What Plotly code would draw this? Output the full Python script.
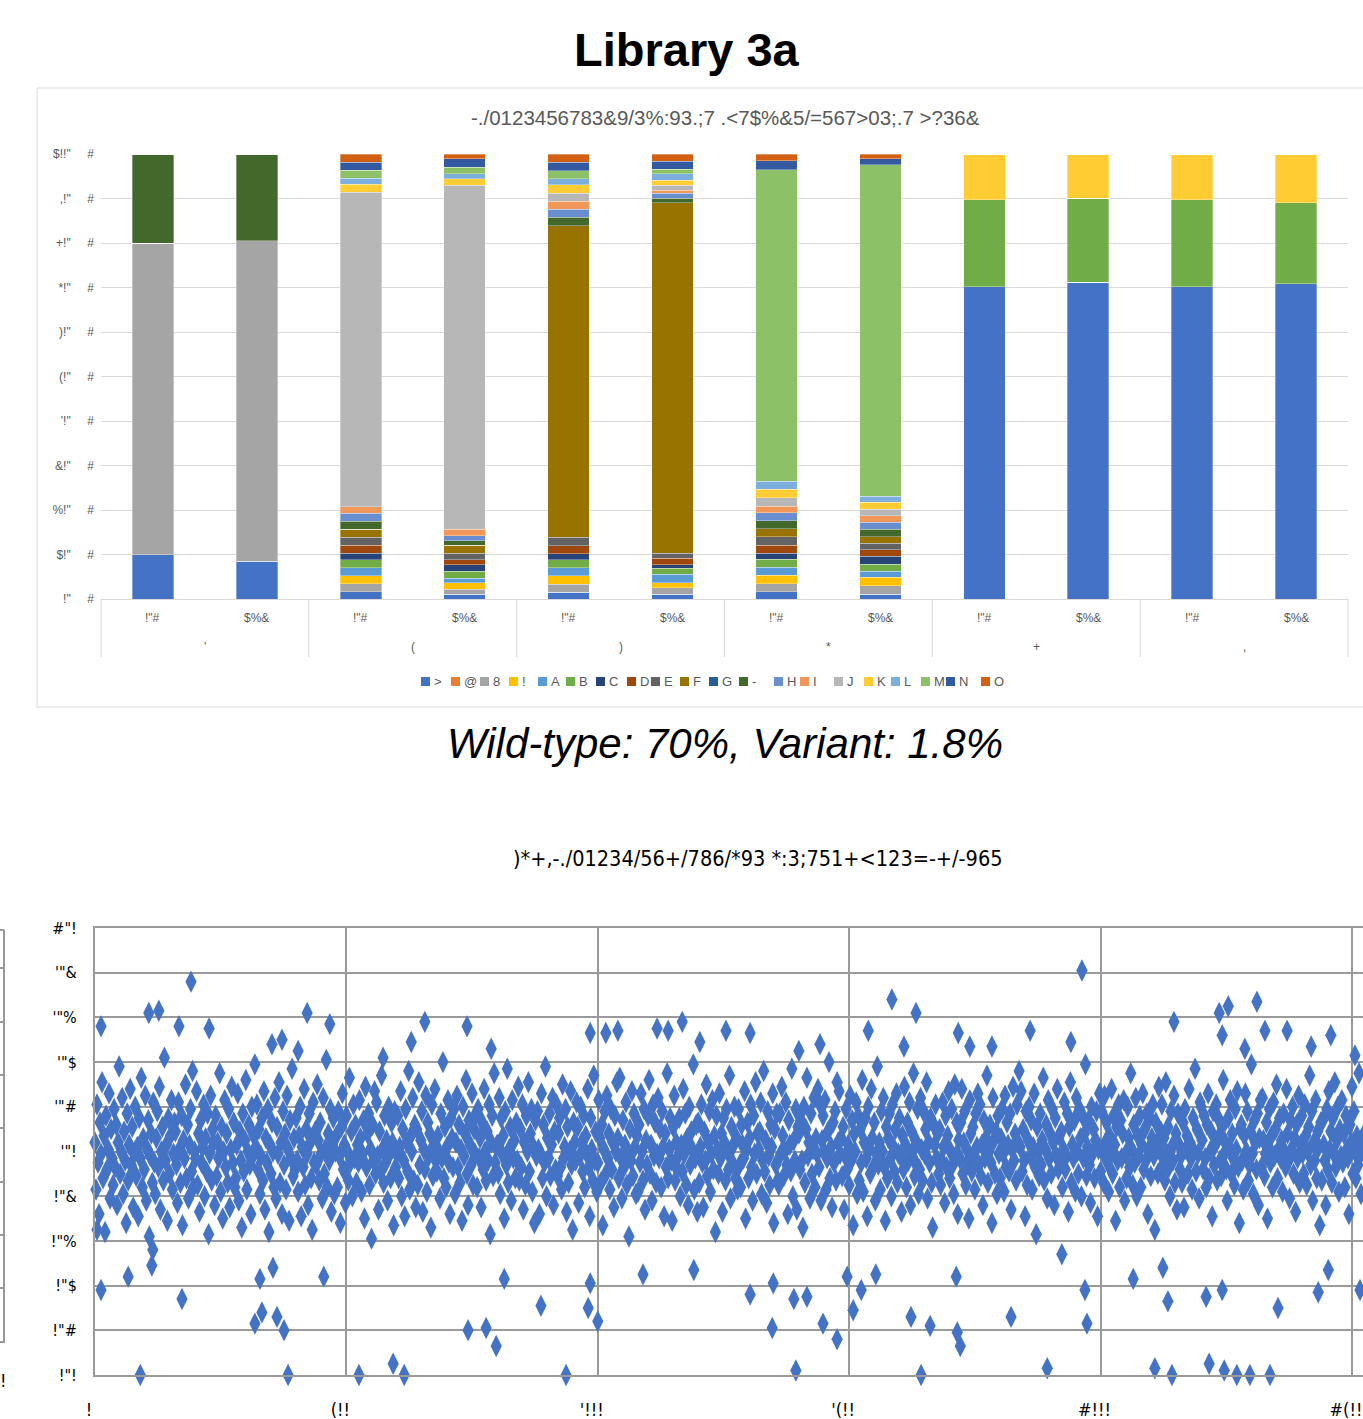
import plotly.graph_objects as go

W, H = 1363, 1419


def px(x):
    return x / W


def py(y):
    return 1 - y / H


def esc(t):
    return t.replace('<', '&lt;').replace('>', '&gt;')


NARROW = "Liberation Sans Narrow, Arial Narrow, DejaVu Sans Condensed, sans-serif"
SANS = "Liberation Sans, Arial, sans-serif"
GRAY_TXT = '#595959'

# ---------------- top chart data ----------------
group_labels = ["'", "(", ")", "*", "+", ","]
sub_labels = ['!"#', '$%&']
series_names = ['>', '@', '8', '!', 'A', 'B', 'C', 'D', 'E', 'F',
                'G', '-', 'H', 'I', 'J', 'K', 'L', 'M', 'N', 'O']
series_colors = ['#4472C4', '#ED7D31', '#A5A5A5', '#FFC000', '#5B9BD5',
                 '#70AD47', '#264478', '#9E480E', '#636363', '#997300',
                 '#255E91', '#43682B', '#698ED0', '#F1975A', '#B7B7B7',
                 '#FFCD33', '#7CAFDD', '#8CC168', '#335AA1', '#D26012']

s_gt = [9.9, 8.5, 1.6, 1.05, 1.5, 1.05, 1.64, 1.12, 70.2, 71.3, 70.2, 70.9]
s_at = [0, 0, 0, 0, 0, 0, 0, 0, 0, 0, 0, 0]
s_8 = [70.1, 72.0, 1.8, 1.12, 1.8, 1.5, 1.8, 1.87, 0, 0, 0, 0]
s_excl = [0, 0, 1.8, 1.5, 1.87, 1.12, 1.87, 1.87, 0, 0, 0, 0]
s_A = [0, 0, 1.8, 1.05, 1.8, 1.87, 1.8, 1.42, 0, 0, 0, 0]
s_B = [0, 0, 1.8, 1.5, 1.87, 1.42, 1.8, 1.5, 19.6, 18.9, 19.6, 18.2]
s_C = [0, 0, 1.4, 1.5, 1.35, 0.74, 1.42, 1.87, 0, 0, 0, 0]
s_D = [0, 0, 1.8, 1.05, 1.8, 1.42, 1.8, 1.42, 0, 0, 0, 0]
s_E = [0, 0, 1.8, 1.5, 1.87, 1.12, 1.87, 1.5, 0, 0, 0, 0]
s_F = [0, 0, 1.8, 1.8, 70.0, 78.7, 1.8, 1.42, 0, 0, 0, 0]
s_G = [0, 0, 0, 0, 0, 0, 0, 0, 0, 0, 0, 0]
s_dash = [20.0, 19.5, 1.8, 1.05, 1.87, 1.05, 1.8, 1.73, 0, 0, 0, 0]
s_H = [0, 0, 1.8, 1.12, 1.8, 1.12, 1.8, 1.57, 0, 0, 0, 0]
s_I = [0, 0, 1.5, 1.42, 1.8, 0.67, 1.5, 1.42, 0, 0, 0, 0]
s_J = [0, 0, 70.4, 77.3, 1.8, 1.12, 1.87, 1.5, 0, 0, 0, 0]
s_K = [0, 0, 1.8, 1.5, 1.87, 1.12, 1.87, 1.5, 10.3, 9.9, 10.3, 11.0]
s_L = [0, 0, 1.4, 1.05, 1.42, 1.5, 1.8, 1.42, 0, 0, 0, 0]
s_M = [0, 0, 1.8, 1.5, 1.8, 1.05, 70.0, 74.4, 0, 0, 0, 0]
s_N = [0, 0, 1.8, 1.87, 1.87, 1.73, 2.0, 1.35, 0, 0, 0, 0]
s_O = [0, 0, 1.8, 1.12, 1.87, 1.64, 1.57, 1.12, 0, 0, 0, 0]
series_values = [s_gt, s_at, s_8, s_excl, s_A, s_B, s_C, s_D, s_E, s_F,
                 s_G, s_dash, s_H, s_I, s_J, s_K, s_L, s_M, s_N, s_O]

y1_tick_vals = [0, 10, 20, 30, 40, 50, 60, 70, 80, 90, 100]
y1_tick_prefix = ['!"', '$!"', '%!"', '&!"', "'!\"", '(!"', ')!"', '*!"', '+!"', ',!"', '$!!"']

# legend layout (left edge of each swatch, px)
legend_x_px = [421, 451, 480, 509, 538, 566, 596, 627, 651, 680,
               709, 739, 774, 800, 834, 864, 891, 921, 946, 981]

# ---------------- bottom chart data ----------------
y2_tick_vals = [0, 0.2, 0.4, 0.6, 0.8, 1.0, 1.2, 1.4, 1.6, 1.8, 2.0]
y2_tick_text = ['!"!', '!"#', '!"$', '!"%', '!"&', '\'"!', '\'"#', '\'"$', '\'"%', '\'"&', '#"!']
x2_tick_vals = [0, 500, 1000, 1500, 2000, 2500]
x2_tick_text = ['!', '(!!', "'!!!", "'(!!", '#!!!', '#(!!']

# dense core of the scatter (hundredths), one value every 2 positions
core_y = [
    104, 83, 121, 95, 72, 113, 99, 131, 88, 107, 64, 116, 92, 101, 126, 79, 110, 97, 85, 119,
    93, 112, 76, 104, 138, 90, 100, 124, 81, 109, 96, 68, 117, 87, 103, 128, 94, 111, 75, 99,
    120, 89, 102, 71, 115, 97, 133, 84, 106, 92, 125, 78, 101, 114, 62, 98, 108, 86, 122, 95,
    81, 106, 118, 93, 129, 74, 100, 111, 87, 142, 96, 103, 69, 115, 90, 107, 123, 83, 99, 113,
    109, 94, 77, 122, 101, 86, 116, 67, 105, 97, 130, 88, 112, 79, 103, 119, 91, 136, 84, 100,
    97, 127, 85, 108, 73, 114, 95, 102, 121, 80, 106, 91, 117, 63, 99, 125, 87, 110, 104, 76,
    116, 89, 104, 97, 135, 82, 111, 70, 100, 123, 93, 108, 86, 119, 75, 101, 129, 95, 113, 84,
    88, 103, 126, 78, 109, 96, 66, 117, 91, 105, 132, 83, 100, 112, 94, 72, 120, 98, 107, 139,
    102, 121, 92, 110, 81, 98, 115, 87, 127, 74, 106, 95, 119, 64, 103, 90, 113, 100, 84, 124,
    79, 111, 99, 131, 86, 104, 72, 118, 94, 108, 83, 125, 101, 69, 114, 97, 137, 89, 106, 92,
    115, 96, 82, 107, 120, 71, 102, 93, 128, 85, 110, 99, 76, 117, 104, 88, 65, 122, 95, 109,
    94, 130, 105, 87, 113, 99, 79, 124, 90, 101, 141, 84, 108, 96, 119, 73, 103, 115, 81, 100,
    107, 84, 118, 98, 68, 111, 126, 92, 103, 77, 116, 100, 87, 133, 95, 109, 80, 121, 97, 112,
    86, 103, 95, 123, 106, 82, 99, 114, 70, 129, 93, 108, 117, 85, 101, 61, 112, 96, 127, 90,
    122, 98, 74, 109, 91, 134, 101, 86, 116, 95, 105, 78, 120, 99, 88, 113, 104, 67, 118, 93,
    99, 116, 88, 102, 127, 80, 110, 96, 71, 119, 104, 91, 136, 83, 107, 100, 124, 87, 112, 75,
    110, 85, 131, 94, 105, 118, 73, 101, 92, 125, 82, 113, 98, 108, 66, 121, 89, 103, 128, 96,
    91, 107, 100, 79, 117, 97, 140, 88, 111, 84, 102, 123, 95, 72, 115, 106, 93, 119, 81, 104,
    125, 93, 112, 86, 101, 69, 120, 98, 108, 132, 90, 76, 114, 103, 94, 126, 85, 110, 99, 117,
    84, 119, 97, 106, 75, 113, 92, 128, 100, 87, 109, 96, 121, 63, 104, 116, 89, 135, 95, 102,
    103, 90, 124, 81, 115, 99, 107, 70, 118, 94, 137, 86, 101, 111, 78, 123, 97, 105, 88, 113,
    96, 129, 87, 110, 93, 121, 74, 104, 85, 116, 100, 131, 91, 108, 119, 82, 102, 68, 114, 98,
    118, 101, 72, 99, 126, 88, 112, 95, 138, 80, 106, 97, 117, 89, 103, 124, 76, 109, 92, 121,
    89, 108, 115, 93, 83, 130, 97, 102, 119, 73, 111, 86, 100, 127, 94, 65, 113, 104, 96, 122,
    111, 77, 98, 120, 104, 91, 116, 84, 107, 99, 128, 93, 71, 115, 101, 87, 134, 96, 109, 82,
    95, 123, 106, 86, 112, 67, 101, 118, 90, 125, 97, 108, 83, 119, 92, 104, 75, 116, 100, 131,
    106, 88, 133, 97, 79, 114, 93, 103, 122, 85, 100, 62, 110, 96, 127, 89, 117, 102, 81, 107,
    82, 112, 95, 126, 100, 87, 119, 74, 105, 94, 116, 132, 90, 103, 78, 121, 98, 113, 86, 99,
    124, 97, 110, 84, 118, 102, 71, 108, 93, 135, 88, 101, 115, 96, 69, 111, 125, 87, 104, 92,
    98, 115, 80, 103, 91, 128, 99, 117, 85, 106, 76, 120, 94, 109, 101, 139, 83, 97, 112, 73,
    113, 86, 102, 121, 95, 75, 109, 96, 130, 89, 104, 118, 82, 99, 123, 92, 107, 64, 116, 101,
    90, 126, 97, 108, 73, 115, 104, 87, 119, 100, 92, 134, 79, 111, 95, 103, 120, 88, 106, 83,
    119, 94, 84, 112, 103, 97, 127, 70, 101, 113, 88, 106, 121, 93, 78, 116, 99, 131, 90, 108,
    101, 109, 122, 81, 96, 136, 91, 105, 77, 118, 98, 85, 112, 102, 126, 68, 110, 94, 117, 87,
    85, 117, 99, 129, 107, 89, 100, 122, 94, 72, 114, 103, 91, 137, 80, 105, 96, 119, 74, 111,
    108, 92, 114, 96, 66, 120, 86, 110, 133, 98, 104, 79, 117, 90, 101, 124, 84, 106, 99, 128,
    93, 121, 78, 105, 116, 100, 123, 83, 97, 109, 140, 88, 102, 75, 113, 95, 118, 87, 131, 104,
    127, 99, 106, 89, 111, 74, 98, 119, 92, 103, 85, 125, 96, 114, 67, 108, 100, 122, 81, 116,
    87, 110, 95, 132, 82, 104, 115, 97, 71, 120, 101, 90, 128, 106, 93, 113, 78, 99, 138, 94,
    104, 83, 118, 100, 124, 93, 69, 111, 88, 106, 117, 97, 80, 121, 102, 91, 110, 126, 86, 99,
    115, 98, 73, 107, 92, 129, 103, 84, 113, 96, 122, 76, 109, 100, 135, 89, 105, 94, 119, 81,
    92, 124, 101, 87, 118, 99, 110, 131, 79, 104, 95, 115, 86, 66, 112, 103, 121, 97, 108, 90,
    110, 85, 96, 122, 102, 77, 116, 93, 107, 127, 88, 100, 119, 94, 81, 130, 98, 113, 72, 105,
    97, 113, 128, 90, 104, 118, 85, 101, 95, 70, 123, 108, 91, 111, 99, 83, 117, 102, 126, 94,
    121, 89, 103, 76, 114, 97, 106, 134, 86, 100, 112, 95, 68, 124, 105, 90, 109, 81, 116, 99,
    88, 106, 119, 99, 82, 125, 93, 113, 103, 91, 117, 74, 101, 129, 96, 108, 87, 121, 104, 136,
    102, 127, 91, 110, 96, 71, 118, 85, 105, 120, 98, 114, 83, 102, 126, 93, 63, 111, 100, 89,
    117, 94, 105, 133, 87, 101, 112, 79, 123, 97, 108, 90, 119, 104, 76, 115, 98, 128, 92, 107,
    95, 109, 84, 101, 122, 92, 98, 117, 73, 111, 131, 86, 103, 97, 114, 82, 124, 100, 90, 119,
    106, 80, 116, 97, 108, 139, 89, 102, 114, 94, 77, 120, 99, 110, 88, 105, 118, 71, 101, 126,
    91, 118, 100, 86, 125, 104, 113, 95, 82, 107, 99, 128, 90, 116, 103, 69, 111, 96, 121, 84,
    114, 97, 108, 123, 78, 99, 88, 120, 106, 93, 135, 101, 85, 112, 95, 124, 80, 107, 98, 116,
    84, 103, 126, 92, 110, 96, 117, 72, 101, 115, 89, 106, 121, 98, 65, 113, 104, 90, 129, 100,
    109, 121, 94, 106, 87, 131, 99, 111, 93, 80, 118, 102, 96, 125, 86, 108, 74, 117, 103, 92,
    98, 86, 113, 75, 119, 101, 107, 90, 128, 104, 97, 83, 115, 100, 137, 91, 110, 99, 79, 122,
    120, 105, 92, 116, 97, 84, 112, 126, 88, 100, 109, 71, 118, 94, 103, 121, 87, 106, 114, 96,
    89, 111, 132, 99, 104, 92, 78, 115, 102, 123, 90, 108, 97, 85, 119, 101, 127, 93, 68, 110,
    112, 96, 83, 107, 126, 100, 118, 87, 94, 109, 139, 99, 81, 114, 104, 92, 117, 76, 106, 123,
    93, 124, 105, 89, 99, 113, 70, 102, 119, 95, 107, 84, 122, 98, 110, 130, 88, 101, 115, 97,
    105, 82, 117, 100, 93, 128, 108, 96, 79, 114, 101, 120, 90, 106, 73, 112, 97, 125, 86, 103,
    116, 99, 90, 121, 107, 85, 100, 111, 134, 94, 118, 78, 104, 96, 123, 88, 109, 102, 67, 113,
    87, 114, 103, 96, 76, 119, 92, 127, 101, 109, 86, 115, 99, 131, 93, 105, 120, 82, 110, 98,
    123, 95, 108, 84, 116, 101, 97, 72, 112, 104, 129, 90, 118, 100, 88, 107, 94, 135, 103, 81,
    100, 107, 91, 118, 99, 125, 83, 106, 95, 113, 77, 102, 121, 89, 110, 97, 116, 104, 92, 108,
]
core_step = 2

# individually visible points away from the core
outlier_x = [191, 127, 107, 422, 467, 167, 227, 12, 352, 372, 404, 656, 740, 629, 788, 573,
             985, 1016, 1040, 1118, 1140, 1168, 1203, 1255, 1303, 1400, 1442, 1538, 1585, 1633,
             1609, 1740, 1717, 1784, 1860, 1941, 1963, 2146, 2236, 2254, 2311, 2242, 2287, 2327,
             2371, 2419, 2458, 2506,
             4, 12, 66, 115, 113, 173, 90, 318, 332, 362, 376, 328, 354, 384, 455, 525, 593, 615,
             742, 778, 798, 814, 887, 937, 981, 1000, 985, 1090, 1191, 1303, 1349, 1347, 1390, 1416,
             1448, 1496, 1508, 1524, 1394, 1476, 1553, 1623, 1661, 1643, 1715, 1721, 1713, 1822,
             1894, 1923, 1969, 1973, 2065, 2108, 2142, 2134, 2124, 2216, 2246, 2271, 2297, 2337,
             2210, 2242, 2353, 2433, 2453, 2516]
outlier_y = [1.76, 1.63, 1.62, 1.62, 1.57, 1.56, 1.55, 1.56, 1.48, 1.50, 1.45, 1.58, 1.56, 1.49,
             1.46, 1.42, 1.53, 1.53, 1.54, 1.55, 1.54, 1.58, 1.49, 1.54, 1.53, 1.45, 1.48, 1.54,
             1.68, 1.62, 1.47, 1.47, 1.53, 1.47, 1.54, 1.49, 1.81, 1.58, 1.62, 1.65, 1.67, 1.52,
             1.46, 1.54, 1.54, 1.47, 1.52, 1.43,
             0.65, 0.38, 0.44, 0.56, 0.49, 0.34, 0.00, 0.23, 0.28, 0.26, 0.20, 0.43, 0.48, 0.00,
             0.44, 0.00, 0.05, 0.00, 0.20, 0.21, 0.13, 0.43, 0.31, 0.00, 0.30, 0.24, 0.41, 0.45,
             0.47, 0.36, 0.41, 0.21, 0.34, 0.35, 0.23, 0.44, 0.29, 0.38, 0.02, 0.16, 0.45, 0.26,
             0.22, 0.00, 0.19, 0.13, 0.44, 0.26, 0.03, 0.54, 0.38, 0.23, 0.43, 0.03, 0.00, 0.33,
             0.48, 0.05, 0.02, 0.00, 0.00, 0.00, 0.35, 0.38, 0.30, 0.37, 0.47, 0.38]

# ---------------- figure ----------------
fig = go.Figure()

xcat = [[g for g in group_labels for _ in sub_labels],
        [s for _ in group_labels for s in sub_labels]]
for name, color, vals in zip(series_names, series_colors, series_values):
    fig.add_trace(go.Bar(
        x=xcat, y=vals, name=name, xaxis='x', yaxis='y', showlegend=False,
        marker=dict(color=color, line=dict(color='rgba(255,255,255,0.55)', width=0.6)),
    ))

core_x = list(range(0, core_step * len(core_y), core_step))
marker_style = dict(symbol='diamond-tall', size=16, color='#4472C4', line=dict(width=0))
fig.add_trace(go.Scatter(x=core_x, y=[v / 100 for v in core_y], mode='markers',
                         marker=marker_style, xaxis='x2', yaxis='y2',
                         cliponaxis=False, showlegend=False))
fig.add_trace(go.Scatter(x=outlier_x, y=outlier_y, mode='markers',
                         marker=marker_style, xaxis='x2', yaxis='y2',
                         cliponaxis=False, showlegend=False))

X1_L, X1_R = 101, 1348
Y1_T, Y1_B = 154, 599
GRID2 = '#9a9a9a'
fig.update_layout(
    width=W, height=H,
    margin=dict(l=0, r=0, t=0, b=0, autoexpand=False),
    paper_bgcolor='white', plot_bgcolor='rgba(0,0,0,0)',
    barmode='stack', barnorm='percent', bargap=0.6,
    showlegend=False,
    xaxis=dict(domain=[px(X1_L), px(X1_R)], anchor='y', type='multicategory',
               showdividers=False, showticklabels=False,
               showline=True, linecolor='#D9D9D9', linewidth=1,
               showgrid=False, ticks=''),
    yaxis=dict(domain=[py(Y1_B), py(Y1_T)], anchor='x', range=[0, 100],
               tickvals=y1_tick_vals,
               ticktext=[t + '\u00a0' * 5 + '#' for t in y1_tick_prefix],
               showgrid=True, gridcolor='#D9D9D9', gridwidth=1.3,
               zeroline=False, showline=False, ticks='',
               ticklabelstandoff=6,
               tickfont=dict(size=12, color=GRAY_TXT, family=SANS)),
    xaxis2=dict(domain=[px(95), 1], anchor='y2', range=[0, 2522],
                tickvals=x2_tick_vals, ticktext=x2_tick_text,
                showgrid=True, gridcolor=GRID2, gridwidth=2,
                showline=True, mirror=True, linecolor=GRID2, linewidth=2,
                zeroline=False, ticks='',
                ticklabelstandoff=17, ticklabelshift=-6,
                tickfont=dict(size=18, color='black', family=NARROW)),
    yaxis2=dict(domain=[py(1375), py(928)], anchor='x2', range=[0, 2.0],
                tickvals=y2_tick_vals, ticktext=y2_tick_text,
                showgrid=True, gridcolor=GRID2, gridwidth=2,
                showline=True, linecolor=GRID2, linewidth=2,
                zeroline=False, ticks='',
                ticklabelstandoff=13,
                tickfont=dict(size=16, color='black', family=NARROW)),
)

shapes = []
annotations = []
# outer frame of the top chart
shapes.append(dict(type='rect', xref='paper', yref='paper',
                   x0=px(37), x1=px(1375), y0=py(707), y1=py(88),
                   line=dict(color='#D9D9D9', width=1), fillcolor='rgba(0,0,0,0)', layer='below'))

# two-level category labels + dividers of the top chart
n_bars = len(group_labels) * len(sub_labels)
slot = (X1_R - X1_L) / n_bars
for i in range(n_bars):
    annotations.append(dict(text=sub_labels[i % len(sub_labels)], xref='paper', yref='paper',
                            x=px(X1_L + (i + 0.5) * slot), y=py(618),
                            xanchor='center', yanchor='middle', showarrow=False,
                            font=dict(size=12, color=GRAY_TXT, family=SANS)))
gw = slot * len(sub_labels)
for g, lab in enumerate(group_labels):
    annotations.append(dict(text=lab, xref='paper', yref='paper',
                            x=px(X1_L + (g + 0.5) * gw), y=py(647),
                            xanchor='center', yanchor='middle', showarrow=False,
                            font=dict(size=12, color=GRAY_TXT, family=SANS)))
for g in range(len(group_labels) + 1):
    xx = px(X1_L + g * gw)
    shapes.append(dict(type='line', xref='paper', yref='paper',
                       x0=xx, x1=xx, y0=py(Y1_B), y1=py(657),
                       line=dict(color='#D9D9D9', width=1)))

# legend swatches
for lx, color in zip(legend_x_px, series_colors):
    shapes.append(dict(type='rect', xref='paper', yref='paper',
                       x0=px(lx), x1=px(lx + 9), y0=py(686), y1=py(677),
                       line=dict(width=0), fillcolor=color))
for lx, name in zip(legend_x_px, series_names):
    annotations.append(dict(text=esc(name), xref='paper', yref='paper',
                            x=px(lx + 11), y=py(681.5), xanchor='left', yanchor='middle',
                            showarrow=False, font=dict(size=13, color=GRAY_TXT, family=SANS)))

# edge of a neighbouring chart cut off at the left
shapes.append(dict(type='line', xref='paper', yref='paper',
                   x0=px(4), x1=px(4), y0=py(930), y1=py(1343),
                   line=dict(color=GRID2, width=2)))
for ly in [930, 968, 1022, 1075, 1128, 1182, 1235, 1288, 1342]:
    shapes.append(dict(type='line', xref='paper', yref='paper',
                       x0=0, x1=px(4), y0=py(ly), y1=py(ly),
                       line=dict(color=GRID2, width=2)))

annotations.append(dict(text='<b>Library 3a</b>', xref='paper', yref='paper',
                        x=px(687), y=py(50), xanchor='center', yanchor='middle',
                        showarrow=False, font=dict(size=47, color='black', family=SANS)))
annotations.append(dict(text=esc('-./0123456783&9/3%:93.;7 .<7$%&5/=567>03;.7 >?36&'),
                        xref='paper', yref='paper', x=px(726), y=py(117),
                        xanchor='center', yanchor='middle', showarrow=False,
                        font=dict(size=20.5, color=GRAY_TXT, family=SANS)))
annotations.append(dict(text='<i>Wild-type: 70%, Variant: 1.8%</i>', xref='paper', yref='paper',
                        x=px(725), y=py(743), xanchor='center', yanchor='middle',
                        showarrow=False, font=dict(size=42, color='black', family=SANS)))
annotations.append(dict(text=esc(')*+,-./01234/56+/786/*93 *:3;751+<123=-+/-965'),
                        xref='paper', yref='paper', x=px(758), y=py(858),
                        xanchor='center', yanchor='middle', showarrow=False,
                        font=dict(size=21.5, color='black', family=NARROW)))
annotations.append(dict(text='!', xref='paper', yref='paper', x=px(3), y=py(1380),
                        xanchor='center', yanchor='middle', showarrow=False,
                        font=dict(size=18, color='black', family=NARROW)))

fig.update_layout(shapes=shapes, annotations=annotations)
fig.write_html('out.html', config={'displayModeBar': False},
               post_script="document.body.style.margin='0px';")
